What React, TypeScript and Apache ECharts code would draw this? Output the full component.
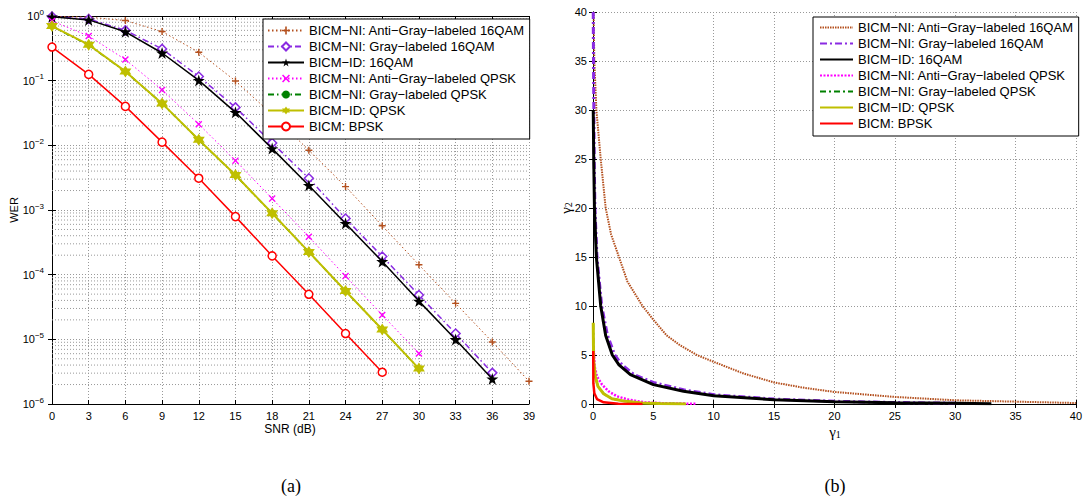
import React, { useEffect, useRef } from 'react';
import * as echarts from 'echarts';

// ---------- shared ----------
const seriesNames = [
  'BICM−NI: Anti−Gray−labeled 16QAM',
  'BICM−NI: Gray−labeled 16QAM',
  'BICM−ID: 16QAM',
  'BICM−NI: Anti−Gray−labeled QPSK',
  'BICM−NI: Gray−labeled QPSK',
  'BICM−ID: QPSK',
  'BICM: BPSK',
];
const colors = ['#B4501E', '#8A2BE2', '#000000', '#FF00FF', '#008000', '#BFBF00', '#FF0000'];

// ---------- (a) WER vs SNR ----------
const snrTicks = [0, 3, 6, 9, 12, 15, 18, 21, 24, 27, 30, 33, 36, 39];
const werAntiGray16 = [0.99, 0.96, 0.85, 0.575, 0.275, 0.099, 0.03, 0.0084, 0.0023, 5.7e-4, 1.42e-4, 3.6e-5, 9.1e-6, 2.25e-6];
const werGray16 = [0.98, 0.9, 0.6, 0.31, 0.116, 0.0386, 0.0109, 0.0031, 7.4e-4, 1.91e-4, 4.85e-5, 1.23e-5, 3.03e-6];
const werId16 = [0.97, 0.87, 0.57, 0.268, 0.101, 0.0324, 0.0089, 0.0024, 6.2e-4, 1.6e-4, 3.9e-5, 9.95e-6, 2.44e-6];
const werAntiGrayQ = [0.84, 0.49, 0.212, 0.072, 0.0212, 0.0058, 1.5e-3, 3.85e-4, 9.5e-5, 2.38e-5, 6.04e-6];
const werGrayQ = [0.69, 0.355, 0.138, 0.0443, 0.0121, 0.00345, 8.85e-4, 2.24e-4, 5.58e-5, 1.41e-5, 3.5e-6];
const werIdQ = [0.7, 0.36, 0.139, 0.0445, 0.0122, 0.00347, 8.9e-4, 2.25e-4, 5.6e-5, 1.42e-5, 3.53e-6];
const werBpsk = [0.331, 0.125, 0.04, 0.0112, 0.0031, 7.9e-4, 1.95e-4, 4.97e-5, 1.23e-5, 3.1e-6];
const werDecades = [1e-6, 1e-5, 1e-4, 1e-3, 1e-2, 1e-1, 1];
const minorMantissas = [2, 3, 4, 5, 6, 7, 8, 9];

// ---------- (b) gamma2 vs gamma1 ----------
const gAntiGray16 = [[0.05, 40], [0.11, 35], [0.28, 30], [0.64, 25], [1.05, 20], [1.5, 17.3], [2.15, 15], [2.85, 12.5], [4.1, 10], [5, 8.6], [6.1, 7], [7.2, 6], [8.6, 5], [10, 4.3], [12.5, 3.1], [15, 2.2], [17.5, 1.65], [20, 1.23], [25, 0.72], [30, 0.38], [35, 0.24], [40, 0.1]];
const gGray16 = [[0.02, 40], [0.04, 35], [0.07, 30], [0.1, 25], [0.16, 20], [0.33, 15], [0.72, 10], [1.2, 7], [1.8, 5], [2.4, 4], [3.4, 3], [5, 2.2], [7.5, 1.45], [10, 0.95], [15, 0.5], [20, 0.28], [25, 0.15], [30, 0.08]];
const gId16 = [[0.02, 30], [0.06, 25], [0.12, 20], [0.28, 15], [0.64, 10], [1.05, 7], [1.6, 5], [2.15, 4], [3.1, 3], [5, 1.98], [7.5, 1.3], [10, 0.85], [15, 0.44], [20, 0.24], [25, 0.14], [30, 0.07], [33, 0.03]];
const gAntiGrayQ = [[0.05, 5.9], [0.14, 3.8], [0.33, 2.8], [0.75, 1.97], [1.3, 1.29], [2, 0.78], [2.95, 0.44], [4.3, 0.17], [6, 0.07], [8.6, 0.02]];
const gGrayQ = [[0.02, 8.2], [0.05, 4.5], [0.19, 2.8], [0.41, 1.8], [0.88, 1.05], [1.57, 0.54], [2.7, 0.27], [4.06, 0.1], [5.5, 0.04], [7.6, 0.01]];
const gIdQ = [[0.02, 8.3], [0.05, 4.5], [0.19, 2.8], [0.41, 1.8], [0.88, 1.05], [1.57, 0.54], [2.7, 0.27], [4.06, 0.1], [5.5, 0.04], [7.7, 0.01]];
const gBpsk = [[0.02, 5.4], [0.03, 2.1], [0.11, 1.1], [0.33, 0.5], [0.88, 0.17], [2.1, 0.03], [4.1, 0.0]];

const FONT = 'Liberation Sans, Arial, Helvetica, sans-serif';
const SERIF = 'Liberation Serif, Times New Roman, serif';

const SYM_PLUS = 'path://M4,0H6V4H10V6H6V10H4V6H0V4H4Z';
const SYM_X = 'path://M1.4,0L5,3.6L8.6,0L10,1.4L6.4,5L10,8.6L8.6,10L5,6.4L1.4,10L0,8.6L3.6,5L0,1.4Z';
const SYM_STAR = 'path://M50,0L61.8,35.3L98.9,35.3L68.9,57.1L80.3,92.4L50,70.6L19.7,92.4L31.1,57.1L1.1,35.3L38.2,35.3Z';
const SYM_HEX = 'path://M50,0L64.4,25L93.3,25L78.9,50L93.3,75L64.4,75L50,100L35.6,75L6.7,75L21.1,50L6.7,25L35.6,25Z';

const DOT = [1.5, 2.5];
const DASHDOT = [6, 3, 1.5, 3];

function pairs(xs: number[], ys: number[]) {
  return ys.map((y, i) => [xs[i], y]);
}

export default function App() {
  const ref = useRef<HTMLDivElement>(null);
  useEffect(() => {
    if (!ref.current) return;
    const chart = echarts.init(ref.current, undefined, { renderer: 'svg' });
    const minorVals: number[] = [];
    werDecades.slice(0, -1).forEach((d) => minorMantissas.forEach((m) => minorVals.push(d * m)));

    const axisLine = { show: true, lineStyle: { color: '#000', width: 1 } };
    const tick = { show: true, inside: true, length: 4, lineStyle: { color: '#000' } };
    const grid = { show: true, lineStyle: { color: '#999', type: [1, 2] as any, width: 1 } };
    const lbl = { color: '#000', fontSize: 11, fontFamily: FONT };

    const namesB = seriesNames.map((n) => n + '#b');

    const aStyles = [
      { data: werAntiGray16, symbol: SYM_PLUS, size: 7, line: { width: 1, type: DOT }, item: { color: colors[0] } },
      { data: werGray16, symbol: 'diamond', size: 9, line: { width: 1.5, type: DASHDOT }, item: { color: '#fff', borderColor: colors[1], borderWidth: 1.5 } },
      { data: werId16, symbol: SYM_STAR, size: 12, line: { width: 1.5, type: 'solid' }, item: { color: colors[2] } },
      { data: werAntiGrayQ, symbol: SYM_X, size: 7, line: { width: 1, type: DOT }, item: { color: colors[3] } },
      { data: werGrayQ, symbol: 'circle', size: 5, line: { width: 1.5, type: DASHDOT }, item: { color: colors[4] } },
      { data: werIdQ, symbol: SYM_HEX, size: 12, line: { width: 2, type: 'solid' }, item: { color: colors[5] } },
      { data: werBpsk, symbol: 'circle', size: 8, line: { width: 1.5, type: 'solid' }, item: { color: '#fff', borderColor: colors[6], borderWidth: 1.5 } },
    ];
    const bStyles = [
      { data: gAntiGray16, line: { width: 2, type: [1.5, 1] } },
      { data: gGray16, line: { width: 3, type: [7, 3, 2, 3] } },
      { data: gId16, line: { width: 3, type: 'solid' } },
      { data: gAntiGrayQ, line: { width: 2.5, type: [2, 1.5] } },
      { data: gGrayQ, line: { width: 2, type: [6, 3, 2, 3] } },
      { data: gIdQ, line: { width: 3, type: 'solid' } },
      { data: gBpsk, line: { width: 2.5, type: 'solid' } },
    ];

    const seriesA = aStyles.map((s, i) => ({
      name: seriesNames[i],
      type: 'line',
      xAxisIndex: 0,
      yAxisIndex: 0,
      data: pairs(snrTicks, s.data),
      symbol: s.symbol,
      symbolSize: s.size,
      showSymbol: true,
      lineStyle: { color: colors[i], ...s.line },
      itemStyle: s.item,
      z: 3 + i,
    }));
    const seriesB = bStyles.map((s, i) => ({
      name: namesB[i],
      type: 'line',
      xAxisIndex: 2,
      yAxisIndex: 2,
      data: s.data,
      symbol: 'none',
      showSymbol: false,
      lineStyle: { color: colors[i], ...s.line },
      itemStyle: { color: colors[i] },
      z: 3 + i,
    }));

    // minor log grid lines, positioned through the axes' own scales
    const minorSeries = {
      name: '_minor',
      type: 'custom',
      xAxisIndex: 0,
      yAxisIndex: 0,
      silent: true,
      z: 1,
      data: minorVals.map((v) => [0, v]),
      encode: { x: 0, y: 1 },
      renderItem: (params: any, api: any) => {
        const v = api.value(1);
        const p1 = api.coord([snrTicks[0], v]);
        const p2 = api.coord([snrTicks[snrTicks.length - 1], v]);
        return {
          type: 'line',
          shape: { x1: p1[0], y1: p1[1], x2: p2[0], y2: p2[1] },
          style: { stroke: '#999', lineWidth: 1, lineDash: [1, 2] },
          silent: true,
        };
      },
    };

    const legendBase = {
      orient: 'vertical',
      itemGap: 3,
      itemHeight: 10,
      borderColor: '#000',
      borderWidth: 1,
      backgroundColor: '#fff',
      selectedMode: false,
      z: 20,
    };

    chart.setOption({
      animation: false,
      backgroundColor: '#fff',
      grid: [
        { left: 52, top: 16, width: 477, height: 388 },
        { left: 593, top: 12, width: 484, height: 392 },
      ],
      xAxis: [
        { type: 'value', gridIndex: 0, min: 0, max: 39, interval: 3, axisLine, axisTick: tick, splitLine: grid, axisLabel: { ...lbl, margin: 6 } },
        { type: 'value', gridIndex: 0, position: 'top', min: 0, max: 39, interval: 3, axisLine, axisTick: tick, splitLine: { show: false }, axisLabel: { show: false } },
        { type: 'value', gridIndex: 1, min: 0, max: 40, interval: 5, axisLine, axisTick: tick, splitLine: grid, axisLabel: { ...lbl, margin: 6 } },
        { type: 'value', gridIndex: 1, position: 'top', min: 0, max: 40, interval: 5, axisLine, axisTick: tick, splitLine: { show: false }, axisLabel: { show: false } },
      ],
      yAxis: [
        {
          type: 'log', gridIndex: 0, min: 1e-6, max: 1, logBase: 10, splitNumber: 6, axisLine, axisTick: tick, splitLine: grid,
          axisLabel: {
            ...lbl, margin: 8,
            formatter: (v: number) => {
              const e = Math.round(Math.log10(v));
              return '{b|10}{s|' + (e === 0 ? '0' : '−' + -e) + '}';
            },
            rich: {
              b: { fontSize: 11, fontFamily: FONT, color: '#000', lineHeight: 14 },
              s: { fontSize: 8, fontFamily: FONT, color: '#000', lineHeight: 14, padding: [0, 0, 8, 0] },
            },
          },
        },
        { type: 'log', gridIndex: 0, position: 'right', min: 1e-6, max: 1, logBase: 10, splitNumber: 6, axisLine, axisTick: tick, splitLine: { show: false }, axisLabel: { show: false } },
        { type: 'value', gridIndex: 1, min: 0, max: 40, interval: 5, axisLine, axisTick: tick, splitLine: grid, axisLabel: { ...lbl, margin: 6 } },
        { type: 'value', gridIndex: 1, position: 'right', min: 0, max: 40, interval: 5, axisLine, axisTick: tick, splitLine: { show: false }, axisLabel: { show: false } },
      ],
      legend: [
        {
          ...legendBase,
          left: 263,
          top: 19,
          itemWidth: 36,
          padding: [5, 5, 6, 4],
          data: seriesNames,
          textStyle: { fontSize: 13, fontFamily: FONT, color: '#000', lineHeight: 12.4 },
        },
        {
          ...legendBase,
          left: 813,
          top: 17,
          itemWidth: 33,
          padding: [4, 5, 6, 6],
          data: namesB,
          itemStyle: { opacity: 0 },
          lineStyle: { width: 2 },
          formatter: (n: string) => n.replace('#b', ''),
          textStyle: { fontSize: 13, fontFamily: FONT, color: '#000', lineHeight: 12.7 },
        },
      ],
      graphic: [
        { type: 'text', x: 14, y: 210, rotation: Math.PI / 2, style: { text: 'WER', font: '11px ' + FONT, fill: '#000', align: 'center', verticalAlign: 'middle' } },
        { type: 'text', x: 290, y: 429, style: { text: 'SNR (dB)', font: '12px ' + FONT, fill: '#000', align: 'center', verticalAlign: 'middle' } },
        { type: 'text', x: 291, y: 486, style: { text: '(a)', font: '18px ' + SERIF, fill: '#000', align: 'center', verticalAlign: 'middle' } },
        { type: 'text', x: 835, y: 486, style: { text: '(b)', font: '18px ' + SERIF, fill: '#000', align: 'center', verticalAlign: 'middle' } },
        {
          type: 'text', x: 566, y: 208, rotation: Math.PI / 2,
          style: {
            text: '{g|γ}{s|2}', align: 'center', verticalAlign: 'middle', fill: '#000',
            rich: { g: { fontSize: 15, fontFamily: SERIF, fill: '#000' }, s: { fontSize: 10, fontFamily: SERIF, fill: '#000', padding: [5, 0, 0, 0] } },
          },
        },
        {
          type: 'text', x: 835, y: 432,
          style: {
            text: '{g|γ}{s|1}', align: 'center', verticalAlign: 'middle', fill: '#000',
            rich: { g: { fontSize: 15, fontFamily: SERIF, fill: '#000' }, s: { fontSize: 10, fontFamily: SERIF, fill: '#000', padding: [5, 0, 0, 0] } },
          },
        },
      ],
      series: [minorSeries, ...seriesA, ...seriesB],
    });
    return () => chart.dispose();
  }, []);
  return <div ref={ref} style={{ position: 'absolute', left: 0, top: 0, width: 1085, height: 497, background: '#fff' }} />;
}
